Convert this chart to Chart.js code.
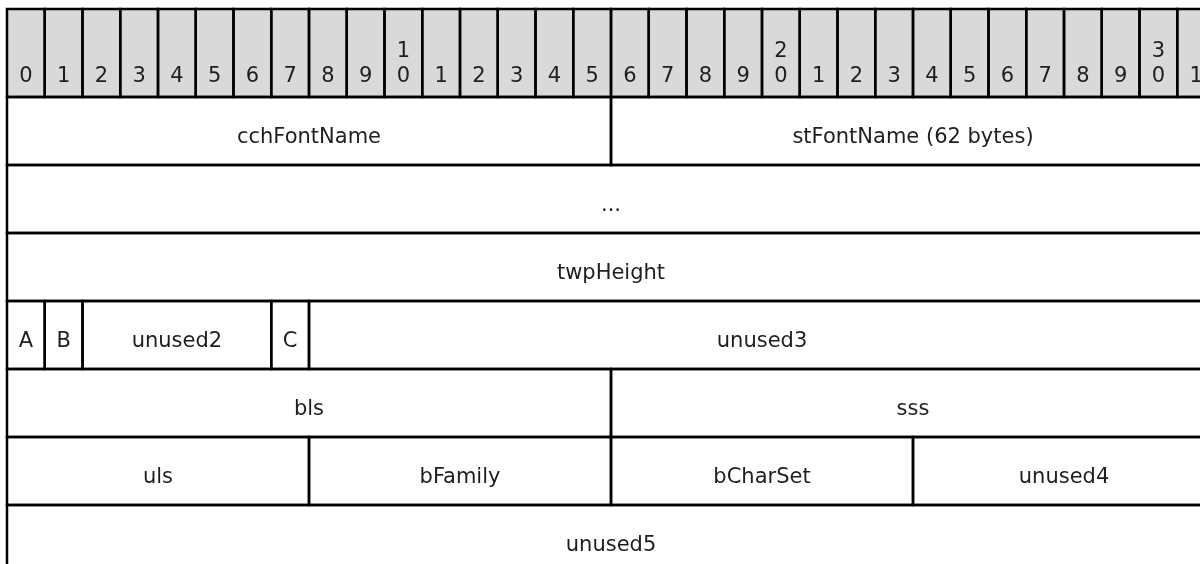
<!DOCTYPE html>
<html>
<head>
<meta charset="utf-8">
<script src="https://cdn.jsdelivr.net/npm/chart.js@4"></script>
<style>
  body { margin: 0; background: #fff; overflow: hidden; }
</style>
</head>
<body>
<canvas id="canvas" width="1200" height="564"></canvas>
<script>
// bit numbers along the top row
const bitLabels = ["0", "1", "2", "3", "4", "5", "6", "7", "8", "9",
    "1\n0", "1", "2", "3", "4", "5", "6", "7", "8", "9",
    "2\n0", "1", "2", "3", "4", "5", "6", "7", "8", "9",
    "3\n0", "1"];

// fields: name, row, first bit, bit after last
const fieldNames = ["cchFontName", "stFontName (62 bytes)", "...", "twpHeight",
    "A", "B", "unused2", "C", "unused3", "bls", "sss",
    "uls", "bFamily", "bCharSet", "unused4", "unused5"];
const fieldRows  = [0, 0, 1, 2, 3, 3, 3, 3, 3, 4, 4, 5, 5, 5, 5, 6];
const fieldStart = [0, 16, 0, 0, 0, 1, 2, 7, 8, 0, 16, 0, 8, 16, 24, 0];
const fieldEnd   = [16, 32, 32, 32, 1, 2, 7, 8, 32, 16, 32, 8, 16, 24, 32, 32];

// layout (pixels)
const CELL_PX = 37.75;
const LEFT_PX = 7;
const ROW_PX = 68;
const HEAD_PX = 88;
const TOP_PX = 9;
const W = 1200, H = 564;
const FONT = "21px 'DejaVu Sans'";

const headUnits = HEAD_PX / ROW_PX;
const yMin = -(TOP_PX + HEAD_PX) / ROW_PX;

const headerData = bitLabels.map(function(label, i){
    return { x: [i, i + 1], y: -headUnits / 2 };
});
const fieldData = fieldNames.map(function(name, i){
    return { x: [fieldStart[i], fieldEnd[i]], y: fieldRows[i] + 0.5 };
});

// outlines and labels, placed from the bar elements
const boxPlugin = {
    id: "boxes",
    afterDatasetsDraw(chart){
        const ctx = chart.ctx;
        ctx.save();
        ctx.lineWidth = 2.5;
        ctx.strokeStyle = "#000";
        ctx.fillStyle = "#1e1e1e";
        ctx.font = FONT;
        ctx.textAlign = "center";
        ctx.textBaseline = "alphabetic";
        chart.data.datasets.forEach(function(ds, d){
            const meta = chart.getDatasetMeta(d);
            meta.data.forEach(function(el, i){
                const p = el.getProps(["x", "y", "base", "height"], true);
                const left = Math.min(p.x, p.base);
                const w = Math.abs(p.x - p.base);
                const top = p.y - p.height / 2;
                ctx.strokeRect(left, top, w, p.height);
                const cx = left + w / 2;
                if (d === 0) {
                    const lines = bitLabels[i].split("\n");
                    const bottom = top + p.height - 15;
                    lines.forEach(function(t, k){
                        ctx.fillText(t, cx, bottom - (lines.length - 1 - k) * 25);
                    });
                } else {
                    ctx.fillText(fieldNames[i], cx, p.y + 12);
                }
            });
        });
        ctx.restore();
    }
};

new Chart(document.getElementById("canvas"), {
    type: "bar",
    data: {
        datasets: [
            {
                label: "bits",
                data: headerData,
                backgroundColor: "#d9d9d9",
                borderWidth: 0,
                barThickness: HEAD_PX,
                categoryPercentage: 1,
                barPercentage: 1,
                grouped: false
            },
            {
                label: "fields",
                data: fieldData,
                backgroundColor: "#ffffff",
                borderWidth: 0,
                barThickness: ROW_PX,
                categoryPercentage: 1,
                barPercentage: 1,
                grouped: false
            }
        ]
    },
    options: {
        indexAxis: "y",
        responsive: false,
        animation: false,
        layout: { padding: { left: LEFT_PX, right: 0, top: 0, bottom: 0 } },
        plugins: { legend: { display: false }, tooltip: { enabled: false } },
        scales: {
            x: { type: "linear", min: 0, max: (W - LEFT_PX) / CELL_PX, display: false, offset: false },
            y: { type: "linear", reverse: true, min: yMin, max: yMin + H / ROW_PX,
                 display: false, offset: false, grid: { offset: false } }
        }
    },
    plugins: [boxPlugin]
});
</script>
</body>
</html>
